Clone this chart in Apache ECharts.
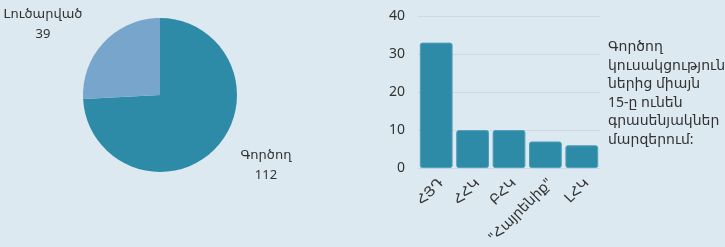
<!DOCTYPE html>
<html>
<head>
<meta charset="utf-8">
<script src="https://cdn.jsdelivr.net/npm/echarts@6/dist/echarts.min.js"></script>
<style>
  html, body { margin: 0; padding: 0; background: #dce9f1; }
  #chart { width: 725px; height: 247px; }
</style>
</head>
<body>
<div id="chart"></div>
<script>
// pie: active vs dissolved parties
const pieNames = ['Գործող', 'Լուծարված']
const pieValues = [112, 39]
// bar: offices in regions
const barCategories = ['ՀՅԴ', 'ՀՀԿ', 'ԲՀԿ', '"Հայրենիք"', 'ԼՀԿ']
const barValues = [33, 10, 10, 7, 6]
const noteText = 'Գործող\nկուսակցություն\nներից միայն\n15-ը ունեն\nգրասենյակներ\nմարզերում:'

const font = '"Noto Sans", "DejaVu Sans", sans-serif'
const colors = ['#2e8ba8', '#78a5cb']
const labelWidths = [54, 76]

let myChart = echarts.init(document.getElementById('chart'))
let option = {
  backgroundColor: '#dce9f1',
  textStyle: { fontFamily: font },
  title: {
    text: noteText,
    left: 603,
    top: 33,
    textStyle: {
      fontFamily: font,
      fontSize: 14,
      fontWeight: 'normal',
      color: '#333',
      lineHeight: 18.5,
    },
  },
  grid: {
    left: 418,
    right: 125,
    top: 16,
    bottom: 77,
  },
  xAxis: {
    type: 'category',
    data: barCategories,
    axisLine: { show: false },
    axisTick: { show: false },
    axisLabel: {
      rotate: 45,
      fontSize: 14,
      color: '#333',
      margin: 8,
      interval: 0,
      verticalAlign: 'top',
    },
  },
  yAxis: {
    type: 'value',
    min: 0,
    max: 40,
    interval: 10,
    axisLabel: { fontSize: 14, color: '#333', margin: 13 },
    splitLine: { lineStyle: { color: '#cad9e4' } },
    axisLine: { show: false },
    axisTick: { show: false },
  },
  series: [
    {
      type: 'pie',
      center: [160, 95],
      radius: 77,
      startAngle: 90,
      clockwise: true,
      data: pieNames.map((n, i) => ({
        name: n,
        value: pieValues[i],
        itemStyle: { color: colors[i] },
        label: { width: labelWidths[i], overflow: 'none' },
      })),
      label: {
        show: true,
        position: 'outside',
        bleedMargin: 0,
        formatter: '{a|{b}}\n{a|{c}}',
        rich: {
          a: { fontSize: 13, color: '#333', align: 'center', lineHeight: 20, fontFamily: font },
        },
      },
      labelLine: { show: false, length: 25, length2: 0 },
      emphasis: { disabled: true },
    },
    {
      type: 'bar',
      data: barValues,
      barCategoryGap: '10%',
      itemStyle: {
        color: '#2e8ba8',
        borderColor: '#4f9fba',
        borderWidth: 1,
        borderRadius: 2,
      },
    },
  ],
}
myChart.setOption(option)
</script>
</body>
</html>
